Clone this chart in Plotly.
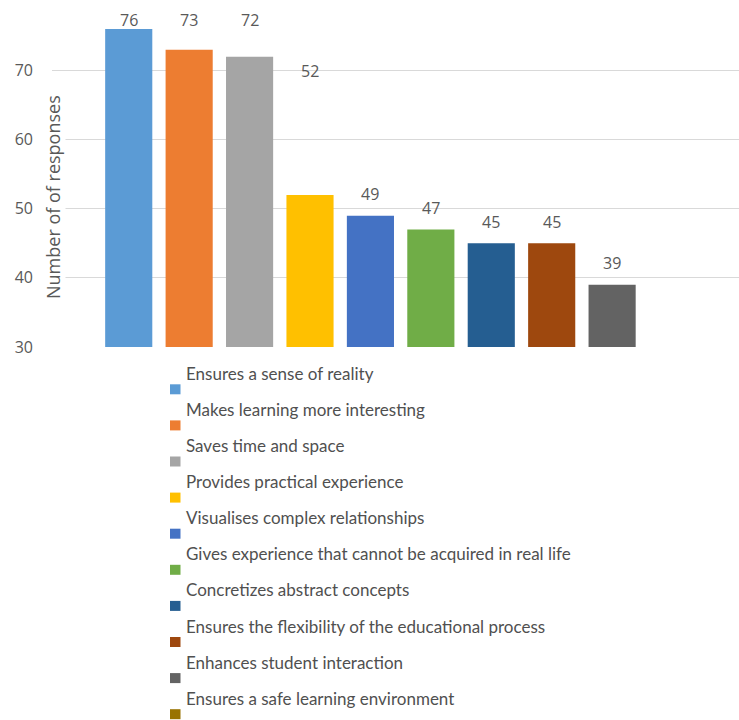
import plotly.graph_objects as go

# ---- data ----
categories = [
    "Ensures a sense of reality",
    "Makes learning more interesting",
    "Saves time and space",
    "Provides practical experience",
    "Visualises complex relationships",
    "Gives experience that cannot be acquired in real life",
    "Concretizes abstract concepts",
    "Ensures the flexibility of the educational process",
    "Enhances student interaction",
    "Ensures a safe learning environment",
]
values = [76, 73, 72, 52, 49, 47, 45, 45, 39, 28]
colors = ["#5B9BD5", "#ED7D31", "#A5A5A5", "#FFC000", "#4472C4",
          "#70AD47", "#255E91", "#9E480E", "#636363", "#997300"]
y_ticks = [30, 40, 50, 60, 70]
y_title = "Number of of responses"

# ---- layout constants ----
W, H = 739, 720
ML, MR, MT, MB = 52, 0, 0, 373
PW, PH = W - ML - MR, H - MT - MB
YMIN, YMAX = 30, 80.2
ppu = PH / (YMAX - YMIN)
FONT = "Open Sans"
TXT = "#595959"


def px_to_paper_x(px):
    return (px - ML) / PW


def px_to_paper_y(py):
    return (MT + PH - py) / PH


fig = go.Figure()
for i, (cat, val, col) in enumerate(zip(categories, values, colors)):
    fig.add_trace(go.Bar(x=[i], y=[val], name=cat, marker_color=col,
                         marker_line_width=0, width=0.78, showlegend=False,
                         hoverinfo="name+y"))

annotations = []
cap = YMAX - 20 / ppu
for i, val in enumerate(values):
    if val < YMIN:
        continue
    ly = val + 21.5 / ppu
    if ly > 70:  # labels pushed to the top edge in the source chart
        ly = cap
    if i == 3:  # label displaced in the source chart
        ly = 70
    annotations.append(dict(x=i, y=ly, xref="x", yref="y", text=str(val),
                            showarrow=False, xanchor="center", yanchor="middle",
                            font=dict(family=FONT, size=16, color=TXT)))

# y-axis title (with white background covering gridlines)
annotations.append(dict(x=px_to_paper_x(53), y=px_to_paper_y(197), xref="paper", yref="paper",
                        text=y_title, textangle=-90, showarrow=False,
                        xanchor="center", yanchor="middle", bgcolor="white", borderpad=0,
                        font=dict(family=FONT, size=18, color=TXT)))

shapes = []
# manual legend: text line above, marker below-left (as in source)
for i, (cat, col) in enumerate(zip(categories, colors)):
    ty = 373.3 + 36.1 * i
    annotations.append(dict(x=px_to_paper_x(184), y=px_to_paper_y(ty), xref="paper", yref="paper",
                            text=cat, showarrow=False, xanchor="left", yanchor="middle",
                            font=dict(family="Lato", size=17, color="#505050")))
    my = ty + 16
    shapes.append(dict(type="rect", xref="paper", yref="paper",
                       x0=px_to_paper_x(170), x1=px_to_paper_x(180.5),
                       y0=px_to_paper_y(my - 5), y1=px_to_paper_y(my + 5),
                       fillcolor=col, line_width=0))

fig.update_layout(
    width=W, height=H,
    margin=dict(l=ML, r=MR, t=MT, b=MB, pad=0),
    paper_bgcolor="white", plot_bgcolor="white",
    barmode="overlay",
    showlegend=False,
    annotations=annotations,
    shapes=shapes,
    xaxis=dict(range=[-1.27, 10.1], showticklabels=False, showgrid=False,
               zeroline=False, showline=False, ticks=""),
    yaxis=dict(range=[YMIN, YMAX], tickvals=y_ticks, showgrid=True,
               gridcolor="#D9D9D9", gridwidth=1, zeroline=False, showline=False,
               ticks="", ticklabelstandoff=18,
               tickfont=dict(family=FONT, size=16, color=TXT)),
)

fig.write_html("out.html")
